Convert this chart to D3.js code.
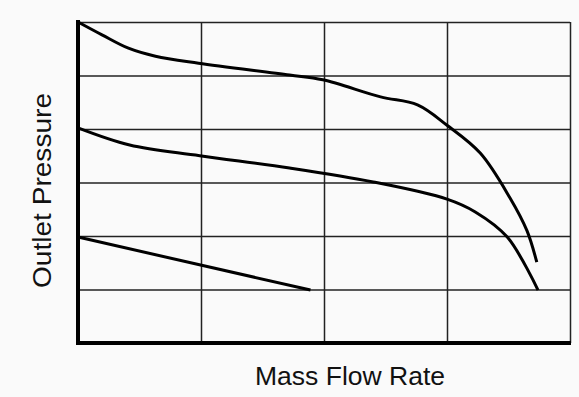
<!DOCTYPE html>
<html>
<head>
<meta charset="utf-8">
<script src="https://cdn.jsdelivr.net/npm/d3@7"></script>
<style>
  body { margin: 0; background: #fafafa; }
  svg { display: block; font-family: "Liberation Sans", Arial, sans-serif; }
</style>
</head>
<body>
<div id="chart"></div>
<script>
// values (flow in grid columns, pressure in grid rows)
var upperFlow = [0, 0.195, 0.41, 0.63, 0.98, 1.72, 1.99, 2.46, 2.76, 3.0, 3.27, 3.51, 3.65, 3.73];
var upperPressure = [6.0, 5.76, 5.51, 5.36, 5.23, 5.01, 4.92, 4.60, 4.45, 4.07, 3.55, 2.72, 2.10, 1.51];

var middleFlow = [0, 0.42, 0.99, 1.72, 2.40, 3.0, 3.23, 3.49, 3.74];
var middlePressure = [4.02, 3.70, 3.50, 3.27, 3.01, 2.69, 2.45, 1.98, 0.99];

var lowerFlow = [0, 1.89];
var lowerPressure = [1.98, 0.99];

var flowGrid = [1, 2, 3, 4];
var pressureGrid = [1, 2, 3, 4, 5, 6];

var width = 579, height = 397;
var margin = { left: 78, right: 9, top: 22, bottom: 54 };

var svg = d3.select("#chart")
    .append("svg")
    .attr("width", width)
    .attr("height", height);

var x = d3.scaleLinear()
    .domain([0, 4])
    .range([margin.left, width - margin.right]);

var y = d3.scaleLinear()
    .domain([0, 6])
    .range([height - margin.bottom, margin.top]);

var plotH = y(0) - y(6);
var plotW = x(4) - x(0);

// grid
var gx = svg.append("g")
    .attr("transform", "translate(0," + y(0) + ")")
    .call(d3.axisBottom(x).tickValues(flowGrid).tickSize(-plotH).tickFormat(""));
var gy = svg.append("g")
    .attr("transform", "translate(" + x(0) + ",0)")
    .call(d3.axisLeft(y).tickValues(pressureGrid).tickSize(-plotW).tickFormat(""));
[gx, gy].forEach(function(g) {
    g.select(".domain").remove();
    g.selectAll(".tick line").attr("stroke", "#222").attr("stroke-width", 1.5);
});

// heavy axes
svg.append("line")
    .attr("x1", x(0)).attr("x2", x(0))
    .attr("y1", y(6) - 2).attr("y2", y(0) + 2)
    .attr("stroke", "#000").attr("stroke-width", 4);
svg.append("line")
    .attr("x1", x(0) - 2).attr("x2", x(4) + 1)
    .attr("y1", y(0)).attr("y2", y(0))
    .attr("stroke", "#000").attr("stroke-width", 4);

var line = d3.line()
    .x(d => x(d[0]))
    .y(d => y(d[1]))
    .curve(d3.curveCatmullRom.alpha(0.5));

[[upperFlow, upperPressure], [middleFlow, middlePressure], [lowerFlow, lowerPressure]]
    .forEach(function(s) {
        svg.append("path")
            .datum(d3.zip(s[0], s[1]))
            .attr("d", line)
            .attr("fill", "none")
            .attr("stroke", "#000")
            .attr("stroke-width", 3);
    });

// axis titles
svg.append("text")
    .attr("x", 255)
    .attr("y", 385)
    .attr("font-size", 25)
    .attr("fill", "#111")
    .attr("textLength", 190)
    .attr("lengthAdjust", "spacingAndGlyphs")
    .text("Mass Flow Rate");

svg.append("text")
    .attr("transform", "translate(51,288) rotate(-90)")
    .attr("font-size", 25)
    .attr("fill", "#111")
    .attr("textLength", 195)
    .attr("lengthAdjust", "spacingAndGlyphs")
    .text("Outlet Pressure");
</script>
</body>
</html>
